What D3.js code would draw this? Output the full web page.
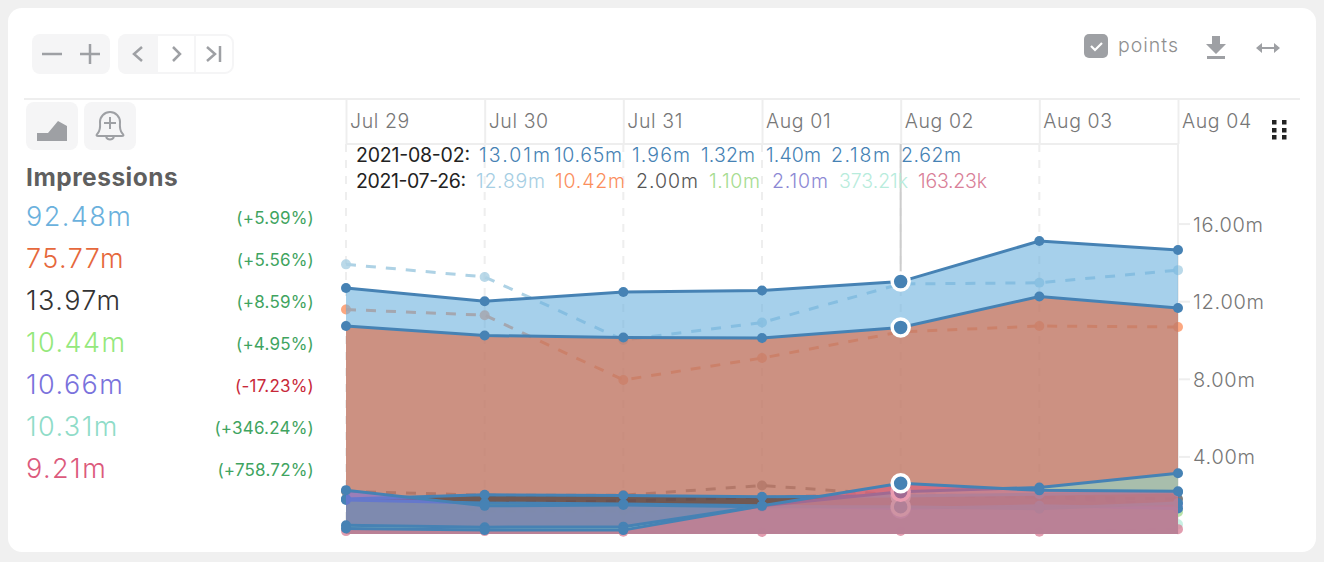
<!DOCTYPE html>
<html>
<head>
<meta charset="utf-8">
<script src="https://d3js.org/d3.v7.min.js"></script>
<style>
  html, body { margin: 0; padding: 0; background: #f0f0f0; }
  svg { display: block; }
  text { font-family: Inter, "Open Sans", sans-serif; }
  .domain { display: none; }
</style>
</head>
<body>
<div id="chart"></div>
<script>
  const days = ['Jul 29', 'Jul 30', 'Jul 31', 'Aug 01', 'Aug 02', 'Aug 03', 'Aug 04']
  const yTicks = [4, 8, 12, 16]
  const yTickLabels = ['4.00m', '8.00m', '12.00m', '16.00m']

  // current week, millions
  const current1 = [12.68, 12.0, 12.47, 12.55, 13.01, 15.1, 14.64]
  const current2 = [10.72, 10.23, 10.13, 10.1, 10.65, 12.24, 11.65]
  const current3 = [1.8, 2.02, 1.98, 1.92, 1.96, 2.05, 2.16]
  const current4 = [1.75, 1.6, 1.55, 1.45, 1.32, 1.45, 1.32]
  const current5 = [2.26, 1.45, 1.5, 1.4, 1.4, 1.3, 1.6]
  const current6 = [0.45, 0.35, 0.38, 1.45, 2.18, 2.4, 3.13]
  const current7 = [0.28, 0.2, 0.2, 1.45, 2.62, 2.25, 2.2]

  // previous week, millions
  const previous1 = [13.9, 13.25, 10.0, 10.9, 12.89, 12.95, 13.6]
  const previous2 = [11.57, 11.28, 7.94, 9.07, 10.42, 10.72, 10.67]
  const previous3 = [2.2, 2.0, 2.0, 2.5, 2.0, 1.9, 1.8]
  const previous4 = [1.8, 1.2, 1.2, 1.15, 1.1, 1.2, 1.13]
  const previous5 = [1.8, 1.6, 1.7, 1.9, 2.1, 1.9, 1.5]
  const previous6 = [0.4, 0.4, 0.4, 0.35, 0.37, 0.4, 0.5]
  const previous7 = [0.15, 0.15, 0.12, 0.1, 0.16, 0.12, 0.25]

  const legendTotals = ['92.48m', '75.77m', '13.97m', '10.44m', '10.66m', '10.31m', '9.21m']
  const legendDeltas = ['(+5.99%)', '(+5.56%)', '(+8.59%)', '(+4.95%)', '(-17.23%)', '(+346.24%)', '(+758.72%)']
  const hoverCurrent = ['13.01m', '10.65m', '1.96m', '1.32m', '1.40m', '2.18m', '2.62m']
  const hoverPrevious = ['12.89m', '10.42m', '2.00m', '1.10m', '2.10m', '373.21k', '163.23k']

  const colors = ['#6bb1dd', '#e6683c', '#333333', '#94e87c', '#7a72dc', '#8fdcc8', '#dc5a7c']
  const prevColors = ['#a6cee3', '#fb8e5c', '#555555', '#a6dc90', '#8c88d4', '#b8ecdc', '#d98098']
  const steel = '#4682b4'
  const iconGrey = '#9ea0a4'

  const currentSeries = [current1, current2, current3, current4, current5, current6, current7]
  const previousSeries = [previous1, previous2, previous3, previous4, previous5, previous6, previous7]

  const svg = d3.select('#chart').append('svg').attr('width', 1324).attr('height', 562)

  // card
  svg.append('rect').attr('x', 8).attr('y', 8).attr('width', 1308).attr('height', 544)
     .attr('rx', 14).attr('fill', '#fff')
  svg.append('line').attr('x1', 24).attr('x2', 1300).attr('y1', 99).attr('y2', 99)
     .attr('stroke', '#eeeeee').attr('stroke-width', 2)

  const x = d3.scalePoint().domain(days).range([346, 1178])
  const y = d3.scaleLinear().domain([0, 16]).range([534, 223.6])

  // x axis, labels sit right of the tick
  const xAxis = svg.append('g').attr('transform', 'translate(0,100)')
     .call(d3.axisBottom(x).tickSize(44))
  xAxis.selectAll('line').attr('stroke', '#eeeeee').attr('stroke-width', 2)
  xAxis.selectAll('text')
     .attr('text-anchor', 'start').attr('x', 3.5).attr('y', 28).attr('dy', 0)
     .attr('font-size', 19.5).attr('font-family', 'Inter').attr('font-weight', 300)
     .attr('letter-spacing', 0.6).attr('fill', '#777777')

  svg.append('g').selectAll('line').data(days).join('line')
     .attr('x1', d => x(d)).attr('x2', d => x(d)).attr('y1', 144).attr('y2', 534)
     .attr('stroke', '#eeeeee').attr('stroke-width', 2).attr('stroke-dasharray', '8,8')
  svg.append('line').attr('x1', 346).attr('x2', 1178).attr('y1', 144).attr('y2', 144)
     .attr('stroke', '#eeeeee').attr('stroke-width', 2)
  svg.append('line').attr('x1', 1178).attr('x2', 1178).attr('y1', 144).attr('y2', 534)
     .attr('stroke', '#eeeeee').attr('stroke-width', 2)
  svg.append('line').attr('x1', x('Aug 02')).attr('x2', x('Aug 02')).attr('y1', 144).attr('y2', y(current1[4]))
     .attr('stroke', '#cccccc').attr('stroke-width', 2)

  // y axis
  const yAxis = svg.append('g').attr('transform', 'translate(1178,0)')
     .call(d3.axisRight(y).tickValues(yTicks).tickSize(12).tickFormat((d, i) => yTickLabels[i]))
  yAxis.selectAll('line').attr('stroke', '#eeeeee').attr('stroke-width', 2)
  yAxis.selectAll('text')
     .attr('x', 15).attr('y', 1).attr('font-size', 20).attr('font-family', 'Inter').attr('font-weight', 300)
     .attr('letter-spacing', 0.7).attr('fill', '#777777')

  const line = d3.line().x((d, i) => x(days[i])).y(d => y(d))
  const area = d3.area().x((d, i) => x(days[i])).y0(y(0)).y1(d => y(d))

  // previous week goes under everything
  previousSeries.forEach(function (values, s) {
    const g = svg.append('g').attr('opacity', 0.9)
    g.append('path').attr('d', line(values)).attr('fill', 'none')
     .attr('stroke', prevColors[s]).attr('stroke-width', 3).attr('stroke-dasharray', '10,10')
    g.selectAll('circle').data(values).join('circle')
     .attr('cx', (d, i) => x(days[i])).attr('cy', d => y(d)).attr('r', 5)
     .attr('fill', prevColors[s]).attr('opacity', 0.85)
  })

  // each series covers the ones before it, so area, line and points go together
  currentSeries.forEach(function (values, s) {
    const g = svg.append('g')
    g.append('path').attr('d', area(values)).attr('fill', colors[s]).attr('fill-opacity', 0.6)
    g.append('path').attr('d', line(values)).attr('fill', 'none')
     .attr('stroke', steel).attr('stroke-width', 3)
    g.selectAll('circle').data(values).join('circle')
     .attr('cx', (d, i) => x(days[i])).attr('cy', d => y(d)).attr('r', 5)
     .attr('fill', steel)
    g.append('circle').attr('cx', x('Aug 02')).attr('cy', y(values[4])).attr('r', 8.5)
     .attr('fill', steel).attr('stroke', '#fff').attr('stroke-width', 3.5)
  })

  // hover readout, each text stretched to the width it has in the row
  const tipCurrentX = [479, 554, 632, 701, 766, 831, 901]
  const tipCurrentW = [71, 68, 58, 54, 55, 59, 60]
  const tipPreviousX = [476, 555, 636, 709, 772, 839, 918]
  const tipPreviousW = [69, 70, 62, 51, 56, 69, 69]
  const tip = svg.append('g').attr('font-size', 19.5).attr('font-weight', 300)
  tip.append('text').attr('x', 356).attr('y', 162).attr('fill', '#222').attr('font-weight', 400)
     .attr('textLength', 114).text('2021-08-02:')
  tip.append('text').attr('x', 356).attr('y', 188).attr('fill', '#222').attr('font-weight', 400)
     .attr('textLength', 110).text('2021-07-26:')
  tip.selectAll('.cur').data(hoverCurrent).join('text').attr('class', 'cur')
     .attr('x', (d, i) => tipCurrentX[i]).attr('y', 162).attr('fill', steel)
     .attr('textLength', (d, i) => tipCurrentW[i]).text(d => d)
  tip.selectAll('.prev').data(hoverPrevious).join('text').attr('class', 'prev')
     .attr('x', (d, i) => tipPreviousX[i]).attr('y', 188).attr('fill', (d, i) => prevColors[i])
     .attr('textLength', (d, i) => tipPreviousW[i]).text(d => d)

  // legend
  svg.append('text').attr('x', 26).attr('y', 186).attr('font-size', 24.5).attr('font-weight', 700)
     .attr('letter-spacing', 0.5).attr('fill', '#5f5f5f').text('Impressions')
  legendTotals.forEach(function (total, i) {
    const rowY = 226 + i * 42
    svg.append('text').attr('x', 26).attr('y', rowY).attr('font-size', 27).attr('font-weight', 300)
       .attr('letter-spacing', 1.45).attr('fill', colors[i]).text(total)
    svg.append('text').attr('x', 314).attr('y', rowY - 2).attr('font-size', 17).attr('font-weight', 400)
       .attr('letter-spacing', 0.2).attr('text-anchor', 'end')
       .attr('fill', legendDeltas[i][1] === '-' ? '#c8293a' : '#3fa45f').text(legendDeltas[i])
  })

  // toolbar
  function button (bx, by, w, h, fill, border) {
    svg.append('rect').attr('x', bx).attr('y', by).attr('width', w).attr('height', h).attr('rx', 8)
       .attr('fill', fill).attr('stroke', border || 'none').attr('stroke-width', border ? 2 : 0)
  }
  function icon (d, sw) {
    svg.append('path').attr('d', d).attr('fill', 'none').attr('stroke', iconGrey)
       .attr('stroke-width', sw || 2.5)
  }
  button(32, 34, 78, 40, '#f5f5f6')
  icon('M42 54H62')
  icon('M80 54H100M90 44V64')
  button(119, 35, 114, 38, '#fff', '#f5f5f6')
  svg.append('path').attr('d', 'M126 34H158V74H126a8 8 0 0 1 -8 -8V42a8 8 0 0 1 8 -8Z').attr('fill', '#f5f5f6')
  svg.append('line').attr('x1', 195).attr('x2', 195).attr('y1', 34).attr('y2', 74).attr('stroke', '#f5f5f6').attr('stroke-width', 2)
  icon('M142 47L134 54L142 61')
  icon('M173 47L180 54L173 61')
  icon('M207 47L215 54L207 61')
  icon('M220 46V62')

  button(26, 102, 52, 48, '#f5f5f6')
  svg.append('path').attr('d', 'M37 133V141H67V126L58 121L48 133Z').attr('fill', iconGrey)
  button(84, 102, 52, 48, '#f5f5f6')
  icon('M98 133C101 129 100 125 100 122A10 10 0 0 1 120 122C120 125 119 129 122 133C124 135 124 136 122 136H98C96 136 96 135 98 133Z M106 137A4.5 4.5 0 0 0 114 137', 2)
  icon('M104 123H116M110 117V129', 2)

  svg.append('rect').attr('x', 1084).attr('y', 34).attr('width', 24).attr('height', 24).attr('rx', 5).attr('fill', iconGrey)
  svg.append('path').attr('d', 'M1091 46L1095 50L1102 43').attr('fill', 'none').attr('stroke', '#fff').attr('stroke-width', 2.2)
  svg.append('text').attr('x', 1118).attr('y', 52).attr('font-size', 19.5).attr('font-weight', 300)
     .attr('letter-spacing', 1).attr('fill', '#8f8f8f').text('points')
  svg.append('path').attr('d', 'M1212 36H1220V44H1226L1216 54L1206 44H1212Z').attr('fill', iconGrey)
  svg.append('rect').attr('x', 1207).attr('y', 56).attr('width', 18).attr('height', 3).attr('fill', iconGrey)
  icon('M1258 48H1278', 2)
  svg.append('path').attr('d', 'M1256 48L1262 43V53Z M1280 48L1274 43V53Z').attr('fill', iconGrey)

  // grip
  ;[1272, 1282].forEach(function (gx) {
    ;[120, 128, 135].forEach(function (gy) {
      svg.append('rect').attr('x', gx).attr('y', gy).attr('width', 4.5).attr('height', 4.5).attr('fill', '#222')
    })
  })
</script>
</body>
</html>
